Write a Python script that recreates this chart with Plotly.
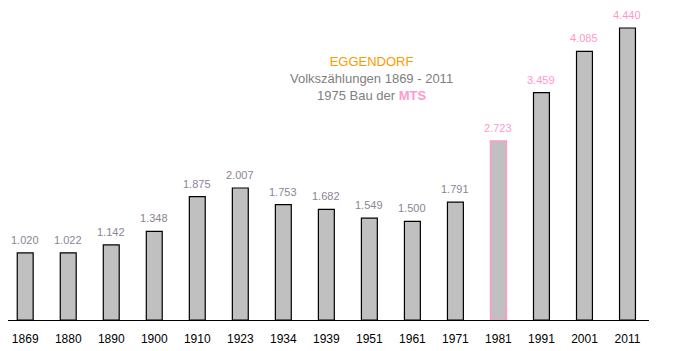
import plotly.graph_objects as go

years = ["1869", "1880", "1890", "1900", "1910", "1923", "1934", "1939", "1951", "1961", "1971", "1981", "1991", "2001", "2011"]
population = [1020, 1022, 1142, 1348, 1875, 2007, 1753, 1682, 1549, 1500, 1791, 2723, 3459, 4085, 4440]

gray_lbl = "#8c8494"
pink = "#ff99cc"
label_colors = [gray_lbl] * 11 + [pink] * 4
line_colors = ["#000000"] * 11 + [pink] + ["#000000"] * 3
line_widths = [1.2] * 11 + [1.5] + [1.2] * 3

def fmt(v):
    return f"{v:,}".replace(",", ".")

fig = go.Figure(go.Bar(
    x=years, y=population,
    marker=dict(color="#c0c0c0", line=dict(color=line_colors, width=line_widths)),
    cliponaxis=False,
    hoverinfo="x+y",
))

plot_w = 680 - 8 - 31
plot_h = 351 - 10 - 31

annotations = [
    dict(x=i, y=v, xref="x", yref="y", text=fmt(v), showarrow=False,
         xanchor="center", yanchor="bottom", yshift=5,
         font=dict(family="Arial, Liberation Sans, sans-serif", size=11, color=c))
    for i, (v, c) in enumerate(zip(population, label_colors))
]
annotations.append(dict(
    x=(371 - 8) / plot_w, y=(351 - 31 - 78) / plot_h, xref="paper", yref="paper", showarrow=False,
    xanchor="center", yanchor="middle", align="center",
    text=("<span style='color:#ff9900'>EGGENDORF</span><br>"
          "<span style='color:#808080'>Volkszählungen 1869 - 2011</span><br>"
          "<span style='color:#808080'>1975 Bau der </span><b style='color:#ff99cc'>MTS</b>"),
    font=dict(family="Arial, Liberation Sans, sans-serif", size=13),
))

fig.update_layout(
    width=680, height=351,
    margin=dict(l=8, r=31, t=10, b=31, autoexpand=False),
    paper_bgcolor="white", plot_bgcolor="white",
    bargap=0.63,
    showlegend=False,
    xaxis=dict(type="category", range=[-0.4, 14.5], showline=True, linecolor="black", linewidth=1,
               ticks="", showgrid=False, zeroline=False, ticklabelstandoff=8, automargin=False,
               tickfont=dict(family="Arial, Liberation Sans, sans-serif", size=12, color="black")),
    yaxis=dict(range=[0, 4714], visible=False, showgrid=False, zeroline=False, automargin=False),
    annotations=annotations,
)

fig.write_html("out.html")
